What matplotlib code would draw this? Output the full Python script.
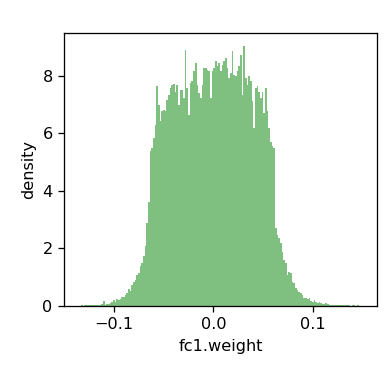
import numpy as np
import matplotlib
matplotlib.use('Agg')
import matplotlib.pyplot as plt

# bin heights (density), left to right
far_left = [0.01, 0.01, 0.01, 0.02, 0.01, 0.02, 0.02, 0.03, 0.02, 0.03]
left_tail = [0.03, 0.04, 0.03, 0.04, 0.04, 0.06, 0.16, 0.05, 0.06, 0.07,
             0.09, 0.13, 0.20, 0.15, 0.26, 0.21, 0.26, 0.32, 0.30, 0.38,
             0.44, 0.60, 0.52, 0.72, 0.84, 0.90, 1.06, 1.14, 1.40, 1.48,
             1.75, 2.10, 2.90, 3.60]
center = [5.37, 5.48, 5.83, 6.30, 7.63, 6.99, 6.41, 6.76, 6.82, 6.76,
          7.17, 7.34, 7.57, 7.69, 7.71, 7.45, 7.69, 6.99, 7.51, 7.51,
          7.22, 8.90, 7.57, 6.64, 7.75, 7.80, 8.15, 8.44, 7.69, 7.39,
          7.22, 7.69, 8.27, 8.27, 8.21, 8.15, 7.22, 8.15, 8.27, 8.50,
          8.33, 8.44, 8.15, 8.38, 8.50, 8.61, 8.27, 7.92, 8.09, 8.85,
          8.03, 7.98, 8.15, 8.33, 8.73, 7.34, 9.02, 7.92, 7.69, 7.98,
          7.80, 7.11, 6.18, 7.57, 7.63, 7.45, 7.22, 7.45, 6.70, 7.57,
          6.76, 6.18, 5.71, 5.54, 5.48]
right_tail = [2.70, 2.47, 2.35, 2.18, 1.89, 1.60, 1.48, 1.08, 1.19, 1.14,
              0.85, 0.79, 0.62, 0.56, 0.50, 0.44, 0.38, 0.29, 0.29, 0.25,
              0.27, 0.17, 0.15, 0.21, 0.13, 0.09, 0.13, 0.09, 0.07, 0.06,
              0.09, 0.06, 0.05, 0.05, 0.04]
far_right = [0.04, 0.03, 0.04, 0.03, 0.02, 0.03, 0.02, 0.03, 0.02, 0.02,
             0.01, 0.02, 0.02, 0.01, 0.02, 0.01, 0.01, 0.01, 0.01]

heights = np.array(far_left + left_tail + center + right_tail + far_right)
bin_start = -0.1382
bin_width = 0.0016835
edges = bin_start + bin_width * np.arange(len(heights) + 1)
centers = (edges[:-1] + edges[1:]) / 2

dpi = 116
fig = plt.figure(figsize=(388 / dpi, 366 / dpi), dpi=dpi)
ax = fig.add_axes([0.165, 0.1639, 0.8067, 0.745])
ax.hist(centers, bins=edges, weights=heights, color='g', alpha=0.5)
ax.set_xlim(-0.1504, 0.1648)
ax.set_ylim(0, 9.47)
ax.set_xticks([-0.1, 0.0, 0.1])
ax.set_yticks([0, 2, 4, 6, 8])
ax.set_xlabel('fc1.weight')
ax.set_ylabel('density')
fig.savefig('out.png', dpi=dpi)
